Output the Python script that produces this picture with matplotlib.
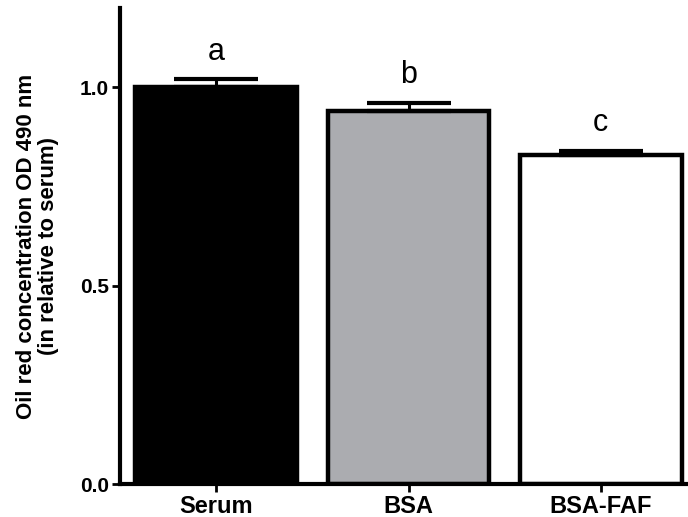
import matplotlib
matplotlib.use("Agg")
import matplotlib.pyplot as plt
import numpy as np

plt.rcParams['font.family'] = ['Liberation Sans', 'DejaVu Sans']

categories = ["Serum", "BSA", "BSA-FAF"]
values = [1.00, 0.94, 0.83]
errors = [0.02, 0.02, 0.01]
letters = ["a", "b", "c"]
colors = ["#000000", "#abacb0", "#ffffff"]

fig = plt.figure(figsize=(6.88, 5.17), dpi=100)
ax = fig.add_axes([120 / 688, 33 / 517, 577 / 688, 476 / 517])

x = np.arange(len(categories))
ax.bar(x, values, width=0.84, color=colors, edgecolor="black", linewidth=3.2, zorder=2)
ax.errorbar(x, values, yerr=[np.zeros(len(errors)), errors], fmt="none",
            ecolor="black", elinewidth=2.2, capsize=30, capthick=3, zorder=3)

# significance letters above each bar
for xi, v, e, lab in zip(x, values, errors, letters):
    ax.text(xi, v + e + 0.05, lab, ha="center", va="baseline", fontsize=22)

ax.set_xlim(-0.5, 2.5)
ax.set_ylim(0, 1.2)
ax.set_yticks([0.0, 0.5, 1.0])
ax.set_yticklabels(["0.0", "0.5", "1.0"])
ax.set_xticks(x)
ax.set_xticklabels(categories)

for lab in ax.get_xticklabels():
    lab.set_fontweight("bold")
    lab.set_fontsize(17)
for lab in ax.get_yticklabels():
    lab.set_fontweight("bold")
    lab.set_fontsize(15)

ax.spines["top"].set_visible(False)
ax.spines["right"].set_visible(False)
ax.spines["left"].set_linewidth(3)
ax.spines["bottom"].set_linewidth(3)
ax.tick_params(axis="both", width=2, length=6, direction="out", pad=2)

ax.set_ylabel("Oil red concentration OD 490 nm\n(in relative to serum)",
              fontsize=16, fontweight="bold", labelpad=15, linespacing=1.05)

fig.savefig("out.png", dpi=100)
